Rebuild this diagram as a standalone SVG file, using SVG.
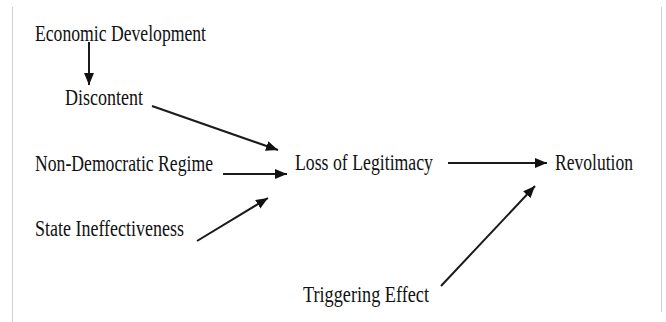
<svg xmlns="http://www.w3.org/2000/svg" width="666" height="322" viewBox="0 0 666 322">
<style>
text{font-family:"Liberation Serif","Times New Roman",serif;font-size:24px;fill:#111}
.c line{stroke:#1a1a1a;stroke-width:2;fill:none}
.frame{stroke:#d0d0d0;stroke-width:1}
</style>
<defs>
<marker id="ah" markerUnits="userSpaceOnUse" markerWidth="13" markerHeight="11" refX="12" refY="5" orient="auto" viewBox="0 0 13 11">
<path d="M0,0 L12,5 L0,10 z" fill="#111"/>
</marker>
</defs>
<rect width="666" height="322" fill="#fff"/>
<line class="frame" x1="12.5" y1="7" x2="12.5" y2="322"/>
<line class="frame" x1="661.5" y1="7" x2="661.5" y2="312"/>
<g id="economic-development"><text x="35" y="41" textLength="171" lengthAdjust="spacingAndGlyphs">Economic Development</text></g>
<g id="discontent"><text x="65" y="105" textLength="78" lengthAdjust="spacingAndGlyphs">Discontent</text></g>
<g id="non-democratic-regime"><text x="35" y="171" textLength="178" lengthAdjust="spacingAndGlyphs">Non-Democratic Regime</text></g>
<g id="loss-of-legitimacy"><text x="295" y="170" textLength="138" lengthAdjust="spacingAndGlyphs">Loss of Legitimacy</text></g>
<g id="revolution"><text x="555" y="170" textLength="78" lengthAdjust="spacingAndGlyphs">Revolution</text></g>
<g id="state-ineffectiveness"><text x="35" y="236" textLength="149" lengthAdjust="spacingAndGlyphs">State Ineffectiveness</text></g>
<g id="triggering-effect"><text x="303" y="302" textLength="126" lengthAdjust="spacingAndGlyphs">Triggering Effect</text></g>
<g class="c" id="connectors">
<line x1="89" y1="42" x2="89" y2="85" marker-end="url(#ah)"/>
<line x1="152" y1="106" x2="278" y2="150" marker-end="url(#ah)"/>
<line x1="223" y1="174" x2="287" y2="174" marker-end="url(#ah)"/>
<line x1="197" y1="241" x2="268" y2="198" marker-end="url(#ah)"/>
<line x1="448" y1="163" x2="547" y2="163" marker-end="url(#ah)"/>
<line x1="441" y1="286" x2="535" y2="186" marker-end="url(#ah)"/>
</g>
</svg>
